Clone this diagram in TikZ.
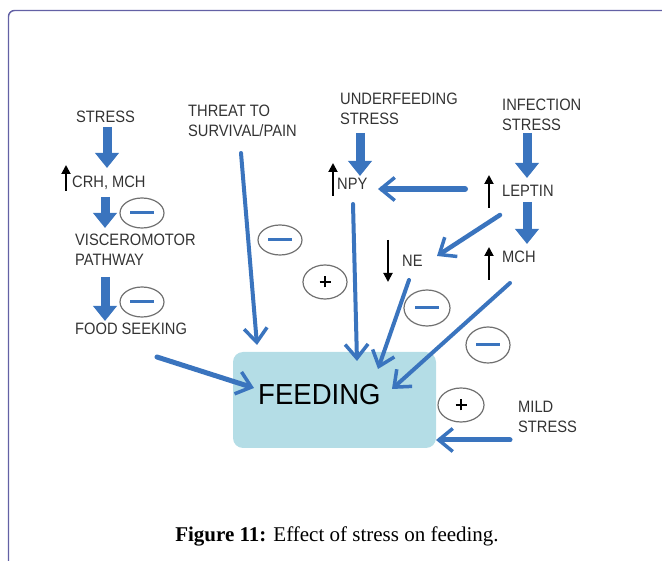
\documentclass[tikz,border=0pt]{standalone}
\usepackage{fontspec}
\setmainfont{Liberation Sans}[FakeStretch=0.89]
\newfontfamily\bigfont{Liberation Sans}[FakeStretch=0.95]
\newfontfamily\capfont{Liberation Serif}
\usetikzlibrary{arrows.meta,shapes.geometric}

\definecolor{flowblue}{HTML}{3A74BE}
\definecolor{boxfill}{HTML}{B4DDE6}
\definecolor{framecol}{HTML}{6361A5}
\definecolor{ringgray}{HTML}{707070}
\definecolor{labelgray}{HTML}{333333}

\tikzset{
  lbl/.style={anchor=base west, inner sep=0pt, align=left, text=labelgray,
    font=\fontsize{16.5}{20}\selectfont},
  bigarrow/.style={draw=flowblue, line width=9pt,
    -{Triangle[width=23pt,length=15pt]}},
  flow/.style={draw=flowblue, line width=4pt, line cap=round,
    -{Straight Barb[length=14pt,width=23pt,line width=3.5pt]}},
  updown/.style={draw=black, line width=1.9pt,
    -{Triangle[width=9pt,length=9pt]}},
  sign/.style={draw=ringgray, line width=1.2pt, ellipse, inner sep=0pt},
  minusbar/.style={draw=flowblue, line width=3pt},
  plusbar/.style={draw=black, line width=1.6pt},
  frame/.style={draw=framecol, line width=1.4pt, rounded corners=6pt},
}

\begin{document}
\begin{tikzpicture}[x=1pt,y=-1pt]
\path[use as bounding box] (0,0) rectangle (662,561);

% page frame around the figure
\draw[frame] (8.5,565) -- (8.5,10.5) -- (668,10.5);

% central box
\node[fill=boxfill, rounded corners=10pt, minimum width=203pt, minimum height=96pt,
  inner sep=0pt] (feed) at (334.5,400) {};
\node[anchor=base west, inner sep=0pt, font=\bigfont\fontsize{29}{29}\selectfont] (feedtxt)
  at (258,405) {FEEDING};

% labels, left column (multi-line labels are placed by their last baseline)
\node[lbl] (stress1) at (76,123) {STRESS};
\node[lbl] (crh) at (72,188) {CRH, MCH};
\node[lbl] (visc) at (75,266) {VISCEROMOTOR\\PATHWAY};
\node[lbl] (food) at (75,335) {FOOD SEEKING};

% labels, middle and right
\node[lbl] (threat) at (188,137) {THREAT TO\\SURVIVAL/PAIN};
\node[lbl] (under) at (340,125) {UNDERFEEDING\\STRESS};
\node[lbl] (npy) at (337,190) {NPY};
\node[lbl] (infect) at (502,131) {INFECTION\\STRESS};
\node[lbl] (leptin) at (502,197) {LEPTIN};
\node[lbl] (mch) at (502,263) {MCH};
\node[lbl] (ne) at (402,267) {NE};
\node[lbl] (mild) at (518,433) {MILD\\STRESS};

% endpoints of the connectors
\coordinate (s1a) at (107,127);  \coordinate (s1b) at (107,168);
\coordinate (s2a) at (105,197);  \coordinate (s2b) at (105,228);
\coordinate (s3a) at (105,277);  \coordinate (s3b) at (105,321);
\coordinate (u1a) at (360,133);  \coordinate (u1b) at (360,176);
\coordinate (i1a) at (527,133);  \coordinate (i1b) at (527,178);
\coordinate (l1a) at (527,202);  \coordinate (l1b) at (527,244);

\coordinate (fda) at (157,357);  \coordinate (fdb) at (254,388);
\coordinate (tha) at (241,153);  \coordinate (thb) at (257,345);
\coordinate (npa) at (353,204);  \coordinate (npb) at (357,361);
\coordinate (nea) at (409,280);  \coordinate (neb) at (378,369);
\coordinate (mca) at (510,283);  \coordinate (mcb) at (392,389);
\coordinate (lna) at (500,215);  \coordinate (lnb) at (437,256);
\coordinate (lpa) at (465,189);  \coordinate (lpb) at (378,189);
\coordinate (mla) at (510,440);  \coordinate (mlb) at (436,440);

% thick block arrows
\draw[bigarrow] (s1a) -- (s1b);
\draw[bigarrow] (s2a) -- (s2b);
\draw[bigarrow] (s3a) -- (s3b);
\draw[bigarrow] (u1a) -- (u1b);
\draw[bigarrow] (i1a) -- (i1b);
\draw[bigarrow] (l1a) -- (l1b);

% rise / fall markers
\draw[updown] (66,191) -- (66,165);
\draw[updown] (333,196) -- (333,163);
\draw[updown] (489,208) -- (489,175);
\draw[updown] (489,280) -- (489,247);
\draw[updown] (388,240) -- (388,282);

% thin connectors
\draw[flow, line width=5pt] (fda) -- (fdb);
\draw[flow] (tha) -- (thb);
\draw[flow] (npa) -- (npb);
\draw[flow] (nea) -- (neb);
\draw[flow] (mca) -- (mcb);
\draw[flow, line width=4.5pt] (lna) -- (lnb);
\draw[flow, line width=6pt] (lpa) -- (lpb);
\draw[flow, line width=5pt] (mla) -- (mlb);

% inhibition / stimulation signs
\node[sign, minimum width=44pt, minimum height=30pt] (m1) at (142,213) {};
\node[sign, minimum width=44pt, minimum height=30pt] (m2) at (142,302) {};
\node[sign, minimum width=44pt, minimum height=30pt] (m3) at (280,240) {};
\node[sign, minimum width=44pt, minimum height=34pt] (p1) at (325,282) {};
\node[sign, minimum width=46pt, minimum height=36pt] (m4) at (427,308) {};
\node[sign, minimum width=44pt, minimum height=36pt] (m5) at (488,345) {};
\node[sign, minimum width=46pt, minimum height=34pt] (p2) at (461,405) {};

\foreach \m in {m1,m2,m3,m4,m5}
  \draw[minusbar] ([xshift=-12pt]\m.center) -- ([xshift=12pt]\m.center);
\foreach \p in {p1,p2} {
  \draw[plusbar] ([xshift=-5.5pt]\p.center) -- ([xshift=5.5pt]\p.center);
  \draw[plusbar] ([yshift=-5.5pt]\p.center) -- ([yshift=5.5pt]\p.center);
}

% caption
\node[anchor=base, inner sep=0pt, font=\capfont\fontsize{21}{21}\selectfont]
  (cap) at (337,541) {\textbf{Figure 11:} Effect of stress on feeding.};
\end{tikzpicture}
\end{document}
